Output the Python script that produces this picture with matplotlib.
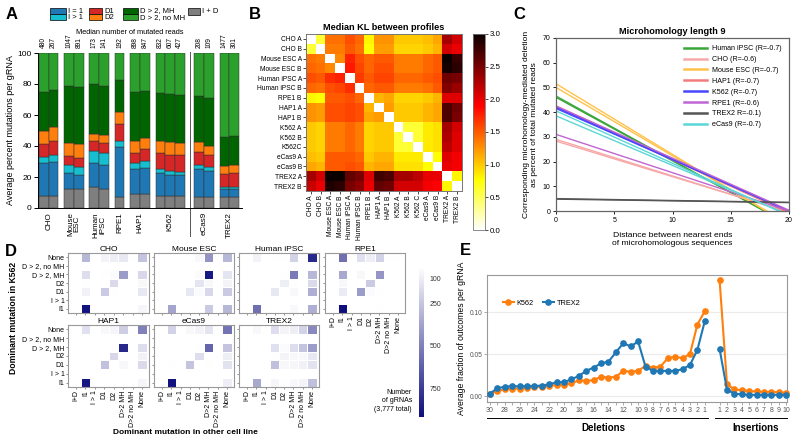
import numpy as np
import matplotlib
matplotlib.use('Agg')
import matplotlib.pyplot as plt
from matplotlib.patches import Rectangle
from matplotlib.colors import LinearSegmentedColormap, Normalize
from matplotlib.cm import ScalarMappable
from matplotlib.lines import Line2D
from matplotlib.transforms import Bbox, TransformedBbox, blended_transform_factory

plt.rcParams['font.family'] = ['Liberation Sans', 'DejaVu Sans']

# ---------------- Panel A data ----------------
a_groups = ['CHO', 'Mouse\nESC', 'Human\niPSC', 'RPE1', 'HAP1', 'K562', 'eCas9', 'TREX2']
a_group_sizes = [2, 2, 2, 1, 2, 3, 2, 2]
a_reads = [480, 267, 1047, 891, 173, 141, 192, 898, 847, 832, 607, 427, 208, 109, 1477, 301]
a_categories = ['I + D', 'I = 1', 'I > 1', 'D1', 'D2', 'D > 2, MH', 'D > 2, no MH']
a_colors = ['#7f7f7f', '#1f77b4', '#17becf', '#d62728', '#ff7f0e', '#006400', '#2ca02c']
a_id    = [8, 8, 12, 12, 13.5, 12.5, 7, 9, 9, 8, 8, 7.5, 7, 7, 7, 7]
a_i1    = [21, 22, 10.5, 9.5, 15.5, 15.5, 32.5, 16, 17, 14.5, 13.5, 14, 18, 17, 5.5, 5.5]
a_igt1  = [4, 4, 5, 5, 7.5, 7.5, 4, 4, 4.5, 2.5, 2.5, 2, 3, 2.5, 1, 1]
a_d1    = [8, 9, 6, 6, 7, 6.5, 11, 6.5, 7.5, 10.5, 10.5, 10.5, 8, 8, 8.5, 9]
a_d2    = [9, 9, 8.5, 8.5, 4.5, 5, 7.5, 7.5, 7, 8, 8, 8, 6.5, 5.5, 5, 5.5]
a_mh    = [25, 24, 36.5, 37, 32, 32, 20.5, 32, 30.5, 30.5, 31, 31, 29.5, 31, 19, 18.5]
a_nomh  = [25, 24, 21.5, 22, 20, 21, 17.5, 25, 24.5, 26, 26.5, 27, 28, 29, 54, 53.5]
a_segments = [a_id, a_i1, a_igt1, a_d1, a_d2, a_mh, a_nomh]

# ---------------- Panel B data ----------------
b_labels_y = ['CHO A', 'CHO B', 'Mouse ESC A', 'Mouse ESC B', 'Human iPSC A', 'Human iPSC B',
              'RPE1 B', 'HAP1 A', 'HAP1 B', 'K562 A', 'K562 B', 'K562C', 'eCas9 A', 'eCas9 B',
              'TREX2 A', 'TREX2 B']
b_labels_x = ['CHO A', 'CHO B', 'Mouse ESC A', 'Mouse ESC B', 'Human iPSC A', 'Human iPSC B',
              'RPE1 B', 'HAP1 A', 'HAP1 B', 'K562 A', 'K562 B', 'K562 C', 'eCas9 A', 'eCas9 B',
              'TREX2 A', 'TREX2 B']
b_kl = [
    [0.0, 0.6, 1.4, 1.4, 1.55, 1.45, 0.8, 1.25, 1.25, 1.0, 1.0, 1.0, 1.05, 1.15, 2.3, 2.1],
    [0.6, 0.0, 1.35, 1.35, 1.5, 1.4, 0.75, 1.2, 1.2, 0.95, 0.95, 0.95, 1.0, 1.1, 2.1, 2.0],
    [1.4, 1.35, 0.0, 1.3, 1.75, 1.55, 1.45, 1.5, 1.5, 1.35, 1.35, 1.35, 1.45, 1.5, 3.0, 2.8],
    [1.45, 1.4, 1.3, 0.0, 1.8, 1.6, 1.45, 1.55, 1.55, 1.35, 1.35, 1.35, 1.45, 1.5, 2.95, 2.85],
    [1.55, 1.5, 1.7, 1.75, 0.0, 1.65, 1.5, 1.6, 1.6, 1.45, 1.45, 1.45, 1.5, 1.55, 2.55, 2.5],
    [1.45, 1.4, 1.55, 1.6, 1.7, 0.0, 1.45, 1.5, 1.5, 1.35, 1.35, 1.35, 1.4, 1.5, 2.45, 2.35],
    [0.8, 0.75, 1.5, 1.5, 1.55, 1.45, 0.0, 1.1, 1.15, 0.95, 0.95, 0.95, 1.0, 1.1, 2.05, 2.05],
    [1.25, 1.2, 1.55, 1.55, 1.6, 1.55, 1.1, 0.0, 1.2, 1.0, 1.0, 1.0, 1.1, 1.15, 2.7, 2.55],
    [1.25, 1.2, 1.55, 1.55, 1.6, 1.55, 1.15, 1.2, 0.0, 1.0, 1.0, 1.0, 1.1, 1.15, 2.7, 2.5],
    [1.0, 0.95, 1.35, 1.35, 1.45, 1.35, 0.95, 1.0, 1.0, 0.0, 0.6, 0.6, 0.85, 0.9, 2.3, 2.1],
    [1.0, 0.95, 1.35, 1.35, 1.45, 1.35, 0.95, 1.0, 1.0, 0.6, 0.0, 0.6, 0.85, 0.9, 2.25, 2.05],
    [1.0, 0.95, 1.35, 1.35, 1.45, 1.35, 0.95, 1.0, 1.0, 0.6, 0.6, 0.0, 0.85, 0.9, 2.2, 2.05],
    [1.05, 1.0, 1.5, 1.5, 1.5, 1.45, 1.0, 1.1, 1.1, 0.85, 0.85, 0.85, 0.0, 0.75, 2.05, 1.95],
    [1.15, 1.1, 1.5, 1.5, 1.55, 1.5, 1.1, 1.15, 1.15, 0.9, 0.9, 0.9, 0.75, 0.0, 2.0, 1.95],
    [2.3, 2.1, 3.0, 3.0, 2.6, 2.5, 2.05, 2.75, 2.7, 2.3, 2.3, 2.2, 2.0, 2.0, 0.0, 0.8],
    [2.15, 2.0, 2.9, 2.85, 2.5, 2.4, 2.0, 2.6, 2.55, 2.1, 2.1, 2.1, 1.95, 1.9, 0.8, 0.0],
]

# ---------------- Panel C data ----------------
c_lines = ['Human iPSC', 'CHO', 'Mouse ESC', 'HAP1', 'K562', 'RPE1', 'TREX2', 'eCas9']
c_labels = ['Human iPSC (R=-0.7)', 'CHO (R=-0.6)', 'Mouse ESC (R=-0.7)', 'HAP1 (R=-0.7)',
            'K562 (R=-0.7)', 'RPE1 (R=-0.6)', 'TREX2 R=-0.1)', 'eCas9 (R=-0.7)']
c_colors = ['#3aa63a', '#f7a8a8', '#ffc24a', '#f27c7c', '#4646ff', '#c065d2', '#555555', '#5cd6d6']
c_x = [0, 20]
c_rep1_at0 = [46.5, 29.0, 51.5, 42.5, 42.0, 42.5, 5.0, 40.5]
c_rep1_at20 = [-5.5, -0.6, -5.7, -0.7, 0.0, 0.3, 3.5, -1.9]
c_rep2_at0 = [46.0, 28.3, 50.0, 42.0, 41.5, 31.0, 4.8, 38.5]
c_rep2_at20 = [-5.4, -0.5, -5.3, -0.6, 0.0, 0.0, 3.4, -1.6]

# ---------------- Panel D data ----------------
d_cols = ['I+D', 'I1', 'I > 1', 'D1', 'D2', 'D>2 MH', 'D>2 no MH', 'None']
d_rows = ['None', 'D > 2, no MH', 'D > 2, MH', 'D2', 'D1', 'I > 1', 'I1']  # top to bottom
d_panels = ['CHO', 'Mouse ESC', 'Human iPSC', 'RPE1', 'HAP1', 'eCas9', 'TREX2']
d_cho = [[0, 300, 0, 80, 100, 120, 40, 250],
         [0, 0, 0, 0, 0, 0, 0, 0],
         [0, 160, 0, 40, 50, 400, 15, 180],
         [0, 40, 0, 20, 170, 30, 0, 60],
         [0, 90, 0, 230, 40, 30, 10, 120],
         [0, 0, 0, 0, 0, 0, 0, 0],
         [0, 900, 0, 15, 15, 25, 5, 70]]
d_mouse = [[0, 30, 0, 30, 60, 430, 40, 300],
           [0, 0, 0, 0, 0, 0, 0, 0],
           [0, 25, 0, 25, 50, 880, 25, 130],
           [0, 10, 0, 20, 130, 60, 0, 80],
           [0, 25, 0, 120, 50, 180, 25, 230],
           [0, 0, 0, 0, 0, 0, 0, 0],
           [0, 370, 0, 25, 35, 230, 25, 300]]
d_human = [[0, 80, 0, 40, 40, 200, 40, 820],
           [0, 0, 0, 0, 0, 0, 0, 0],
           [0, 30, 0, 20, 40, 520, 20, 300],
           [0, 0, 0, 20, 100, 40, 0, 170],
           [0, 20, 0, 120, 30, 60, 0, 330],
           [0, 0, 0, 0, 0, 0, 0, 0],
           [0, 560, 0, 20, 30, 60, 20, 330]]
d_rpe1 = [[0, 560, 0, 150, 100, 200, 40, 40],
          [0, 0, 0, 0, 0, 0, 0, 0],
          [0, 350, 0, 60, 30, 420, 20, 30],
          [0, 60, 0, 30, 230, 30, 0, 20],
          [0, 110, 0, 400, 50, 40, 0, 20],
          [0, 0, 0, 0, 0, 0, 0, 0],
          [0, 920, 0, 20, 20, 40, 0, 10]]
d_hap1 = [[0, 150, 0, 60, 70, 220, 40, 500],
          [0, 0, 0, 0, 0, 0, 0, 0],
          [0, 30, 0, 20, 30, 820, 20, 160],
          [0, 10, 0, 20, 180, 20, 0, 90],
          [0, 30, 0, 260, 20, 60, 0, 170],
          [0, 0, 0, 0, 0, 0, 0, 0],
          [0, 880, 0, 10, 10, 30, 0, 70]]
d_ecas9 = [[0, 200, 0, 60, 80, 130, 40, 550],
           [0, 0, 0, 0, 0, 0, 0, 0],
           [0, 30, 0, 20, 40, 600, 20, 250],
           [0, 10, 0, 20, 160, 30, 0, 100],
           [0, 40, 0, 250, 30, 40, 0, 140],
           [0, 0, 0, 0, 0, 0, 0, 0],
           [0, 900, 0, 10, 10, 30, 0, 100]]
d_trex2 = [[0, 60, 0, 160, 80, 100, 200, 470],
           [0, 0, 0, 0, 0, 0, 0, 0],
           [0, 30, 0, 150, 50, 160, 250, 400],
           [0, 10, 0, 40, 80, 60, 60, 120],
           [0, 20, 0, 270, 60, 70, 90, 140],
           [0, 0, 0, 0, 0, 0, 0, 0],
           [0, 350, 0, 70, 40, 60, 80, 270]]
d_data = [d_cho, d_mouse, d_human, d_rpe1, d_hap1, d_ecas9, d_trex2]
d_cbar_ticks = [100, 250, 500, 750]

# ---------------- Panel E data ----------------
e_del_sizes = list(range(30, 0, -1))
e_ins_sizes = list(range(1, 11))
e_k562_del = [0.003, 0.006, 0.008, 0.009, 0.009, 0.0095, 0.011, 0.011, 0.012, 0.0135,
              0.0135, 0.015, 0.019, 0.018, 0.019, 0.023, 0.022, 0.023, 0.030, 0.029,
              0.030, 0.036, 0.034, 0.035, 0.045, 0.047, 0.045, 0.050, 0.085, 0.101]
e_trex2_del = [0.003, 0.0095, 0.011, 0.012, 0.0115, 0.012, 0.012, 0.0125, 0.014, 0.0165,
               0.0165, 0.020, 0.024, 0.030, 0.034, 0.039, 0.041, 0.052, 0.063, 0.059,
               0.065, 0.035, 0.030, 0.030, 0.030, 0.030, 0.032, 0.037, 0.055, 0.089]
e_k562_ins = [0.138, 0.014, 0.008, 0.007, 0.006, 0.0055, 0.005, 0.005, 0.0045, 0.004]
e_trex2_ins = [0.056, 0.0075, 0.003, 0.002, 0.0015, 0.0015, 0.0015, 0.0015, 0.0015, 0.0015]

# ======================================================
W, H = 800, 443
fig = plt.figure(figsize=(8, 4.43), dpi=100)


def ax_px(l, t, r, b, **kw):
    return fig.add_axes([l / W, 1 - b / H, (r - l) / W, (b - t) / H], **kw)


ov = fig.add_axes([0, 0, 1, 1], zorder=20)
ov.set_xlim(0, W)
ov.set_ylim(H, 0)
ov.axis('off')
ov.patch.set_alpha(0)

for letter, (x, y) in zip('ABCDE', [(12, 14), (255, 14), (519, 14), (11, 251), (465, 250)]):
    ov.text(x, y, letter, fontsize=12, fontweight='bold', ha='center', va='center')

# ---------------- Panel A ----------------
axA = ax_px(38, 53, 242, 208)
pos = []
centers = []
x = 0.0
for gi, n in enumerate(a_group_sizes):
    if gi == 6:
        x += 0.4
    gp = [x + k for k in range(n)]
    pos += gp
    centers.append(np.mean(gp))
    x += n + 0.6
pos = np.array(pos)
bottom = np.zeros(len(pos))
for vals, col in zip(a_segments, a_colors):
    axA.bar(pos, vals, width=1.0, bottom=bottom, color=col, edgecolor='#303030', linewidth=0.35)
    bottom += np.array(vals)
axA.set_xlim(-0.6, 20.4)
axA.set_ylim(0, 100)
axA.set_yticks([0, 20, 40, 60, 80, 100])
axA.tick_params(axis='y', labelsize=6, length=3, width=0.7, pad=1.5)
axA.set_xticks(centers)
axA.set_xticklabels(a_groups, rotation=90, fontsize=5.8, linespacing=0.95)
axA.tick_params(axis='x', length=0, pad=3)
for s in ['top', 'right']:
    axA.spines[s].set_visible(False)
for s in ['left', 'bottom']:
    axA.spines[s].set_linewidth(0.7)
axA.set_ylabel('Average percent mutations per gRNA', fontsize=6.5, labelpad=2)
for p, r in zip(pos, a_reads):
    axA.text(p, 103, str(r), rotation=90, ha='center', va='bottom', fontsize=4.8)
trA = blended_transform_factory(axA.transData, axA.transAxes)
sep_x = (pos[11] + pos[12]) / 2
axA.plot([sep_x, sep_x], [-0.18, 1.006], transform=trA, color='#555555', lw=0.7, clip_on=False)
axA.text(0.45, 1.135, 'Median number of mutated reads', transform=axA.transAxes,
         ha='center', va='center', fontsize=5.3)

# legend A (split patches)
leg_specs = [((50, 66), a_colors[1], a_colors[2], a_categories[1], a_categories[2]),
             ((89, 102), a_colors[3], a_colors[4], a_categories[3], a_categories[4]),
             ((123, 138), a_colors[5], a_colors[6], a_categories[5], a_categories[6])]
for (x0, x1), ct, cb, lt, lb in leg_specs:
    ov.add_patch(Rectangle((x0, 8), x1 - x0, 6, facecolor=ct, edgecolor='black', lw=0.5))
    ov.add_patch(Rectangle((x0, 14), x1 - x0, 6, facecolor=cb, edgecolor='black', lw=0.5))
    ov.text(x1 + 2, 11, lt, fontsize=5.5, va='center', ha='left')
    ov.text(x1 + 2, 17.5, lb, fontsize=5.5, va='center', ha='left')
ov.add_patch(Rectangle((188, 8), 12, 7, facecolor=a_colors[0], edgecolor='black', lw=0.5))
ov.text(202, 11.5, a_categories[0], fontsize=5.5, va='center', ha='left')

# ---------------- Panel B ----------------
axB = ax_px(306, 34, 462, 191)
M = np.array(b_kl, dtype=float)
np.fill_diagonal(M, np.nan)
cmapB = plt.get_cmap('hot_r').copy()
cmapB.set_bad('white')
imB = axB.imshow(M, cmap=cmapB, vmin=0, vmax=3, aspect='auto', interpolation='nearest')
axB.set_xticks(range(16))
axB.set_yticks(range(16))
axB.set_xticklabels(b_labels_x, rotation=90, fontsize=4.8)
axB.set_yticklabels(b_labels_y, fontsize=4.8)
axB.tick_params(length=2, width=0.5, pad=1)
for s in axB.spines.values():
    s.set_color('#777777')
    s.set_linewidth(0.7)
axB.set_title('Median KL between profiles', fontsize=6.6, fontweight='bold', pad=3)
clipbox = TransformedBbox(Bbox.from_extents(0, (H - 241) / H, 1, 1), fig.transFigure)
for lab in axB.get_xticklabels():
    lab.set_clip_box(clipbox)
    lab.set_clip_on(True)
caxB = ax_px(473, 34, 485, 230)
cbB = fig.colorbar(imB, cax=caxB, ticks=np.arange(0, 3.01, 0.5))
cbB.ax.set_yticklabels(['%.1f' % v for v in np.arange(0, 3.01, 0.5)])
cbB.ax.tick_params(labelsize=5.7, length=2, width=0.5, pad=1.5)
cbB.outline.set_linewidth(0.6)
cbB.outline.set_edgecolor('#777777')

# ---------------- Panel C ----------------
axC = ax_px(556, 38, 789, 211)
for i in range(len(c_lines)):
    axC.plot(c_x, [c_rep1_at0[i], c_rep1_at20[i]], color=c_colors[i], lw=1.0)
    axC.plot(c_x, [c_rep2_at0[i], c_rep2_at20[i]], color=c_colors[i], lw=1.0)
axC.set_xlim(0, 20)
axC.set_ylim(0, 70)
axC.set_xticks([0, 5, 10, 15, 20])
axC.set_yticks(range(0, 71, 10))
axC.tick_params(labelsize=5, length=2.5, width=0.6, pad=1.5)
for s in axC.spines.values():
    s.set_color('#666666')
    s.set_linewidth(0.9)
axC.set_title('Microhomology length 9', fontsize=6.6, fontweight='bold', pad=3)
axC.set_ylabel('Corresponding microhomology-mediated deletion\nas percent of total mutated reads',
               fontsize=6.1, labelpad=3)
axC.set_xlabel('Distance between nearest ends\nof microhomologous sequences', fontsize=6.1,
               labelpad=6)
handlesC = [Line2D([], [], color=c, lw=1.8) for c in c_colors]
axC.legend(handlesC, c_labels, loc='upper right', fontsize=5.1, frameon=False,
           handlelength=3.2, labelspacing=0.55, borderaxespad=0.6, handletextpad=0.8)

# ---------------- Panel D ----------------
cmapD = LinearSegmentedColormap.from_list('wn', ['#ffffff', '#0e0e7c'])
normD = Normalize(vmin=35, vmax=920)
d_cols_px = [(68, 149), (154, 234), (239, 319), (325, 405)]
d_rows_px = [(253, 313), (325, 387)]
layout = [(0, 0), (0, 1), (0, 2), (0, 3), (1, 0), (1, 1), (1, 2)]
for name, mat, (r, c) in zip(d_panels, d_data, layout):
    l, rr = d_cols_px[c]
    t, b = d_rows_px[r]
    ax = ax_px(l, t, rr, b)
    arr = np.array(mat, dtype=float)[::-1]
    ax.pcolormesh(np.arange(9) - 0.5, np.arange(8) - 0.5, arr, cmap=cmapD, norm=normD,
                  edgecolors='white', linewidth=0.5)
    ax.set_xlim(-0.85, 7.75)
    ax.set_ylim(-0.5, 6.5)
    ax.set_xticks(range(8))
    ax.set_yticks(range(7))
    ax.tick_params(length=1.5, width=0.5, color='#666666', pad=1)
    if c == 0:
        ax.set_yticklabels(d_rows[::-1], fontsize=5)
    else:
        ax.set_yticklabels([])
    if r == 1 or c == 3:
        ax.set_xticklabels(d_cols, rotation=90, fontsize=5)
    else:
        ax.set_xticklabels([])
    for s in ax.spines.values():
        s.set_color('#999999')
        s.set_linewidth(0.8)
    ax.set_title(name, fontsize=6, pad=1.5)

caxD = ax_px(419, 267, 424, 417)
cbD = fig.colorbar(ScalarMappable(norm=normD, cmap=cmapD), cax=caxD, ticks=d_cbar_ticks)
caxD.invert_yaxis()
cbD.outline.set_visible(False)
cbD.ax.tick_params(labelsize=5, length=0, pad=4, labelcolor='#333333')
ov.text(412, 401, 'Number\nof gRNAs\n(3,777 total)', fontsize=5, ha='right', va='center',
        linespacing=1.3)
ov.text(185, 432, 'Dominant mutation in other cell line', fontsize=6, fontweight='bold',
        ha='center', va='center')
ov.text(14, 318, 'Dominant mutation in K562', fontsize=6.2, fontweight='bold', rotation=90,
        ha='center', va='center')

# ---------------- Panel E ----------------
axE = ax_px(487, 275, 787, 402)
x_del = np.arange(len(e_del_sizes))
x_ins = np.arange(len(e_ins_sizes)) + len(e_del_sizes) + 1
for yv in [0, 0.05, 0.10]:
    axE.axhline(yv, color='#ebebeb', lw=0.8, zorder=0)
col_k, col_t = '#ff7f0e', '#1f77b4'
for xs, ys, col in [(x_del, e_k562_del, col_k), (x_ins, e_k562_ins, col_k),
                    (x_del, e_trex2_del, col_t), (x_ins, e_trex2_ins, col_t)]:
    axE.plot(xs, ys, color=col, lw=1.5, marker='o', ms=3.8, clip_on=False, zorder=3)
axE.set_xlim(-0.4, 40.1)
axE.set_ylim(-0.007, 0.144)
xt = list(x_del) + list(x_ins)
xl = [str(s) if (s < 10 or s % 2 == 0) else '' for s in e_del_sizes] + [str(s) for s in e_ins_sizes]
axE.set_xticks(xt)
axE.set_xticklabels(xl, fontsize=5, color='#555555')
axE.set_yticks([0, 0.05, 0.10])
axE.set_yticklabels(['0.00', '0.05', '0.10'], fontsize=4.8, color='#555555')
axE.tick_params(length=2, width=0.5, color='#888888', pad=1.5)
for s in axE.spines.values():
    s.set_color('#999999')
    s.set_linewidth(0.8)
axE.set_ylabel('Average fraction of outcomes per gRNA', fontsize=6.2, labelpad=2)
handlesE = [Line2D([], [], color=col_k, lw=1.5, marker='o', ms=3.8),
            Line2D([], [], color=col_t, lw=1.5, marker='o', ms=3.8)]
axE.legend(handlesE, ['K562', 'TREX2'], loc='upper left', bbox_to_anchor=(0.03, 0.86), ncol=2,
           frameon=False, fontsize=5.3, handlelength=1.5, columnspacing=1.2, handletextpad=0.4)
ov.plot([487, 708], [418, 418], color='black', lw=0.7)
ov.plot([715, 787], [418, 418], color='black', lw=0.7)
ov.text(603, 428, 'Deletions', fontsize=7, fontweight='bold', ha='center', va='center')
ov.text(756, 428, 'Insertions', fontsize=7, fontweight='bold', ha='center', va='center')

fig.savefig('out.png', dpi=100)
